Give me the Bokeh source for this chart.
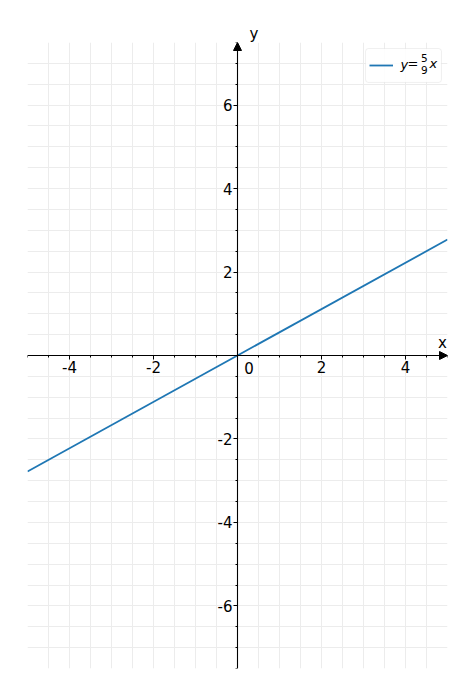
from bokeh.plotting import figure
from bokeh.models import (FixedTicker, Label, Arrow, NormalHead, Legend, LegendItem, BoxAnnotation)
from bokeh.embed import file_html
from bokeh.resources import INLINE

# ---- data ----
line_x = [-5.0, 5.0]
line_y = [-2.778, 2.778]
x_ticks = [-4, -2, 2, 4]
x_tick_labels = ["-4", "-2", "2", "4"]
y_ticks = [-6, -4, -2, 2, 4, 6]
y_tick_labels = ["-6", "-4", "-2", "2", "4", "6"]
x_lim = (-5, 5)
y_lim = (-7.5, 7.5)
step_minor = 0.5

minor_x = [x_lim[0] + i * step_minor for i in range(int((x_lim[1] - x_lim[0]) / step_minor) + 1)]
minor_y = [y_lim[0] + i * step_minor for i in range(int((y_lim[1] - y_lim[0]) / step_minor) + 1)]

FONT = "DejaVu Sans"
FS = "15px"
LFS = "13px"

p = figure(frame_width=420, frame_height=626, x_range=x_lim, y_range=y_lim,
           output_backend="svg", toolbar_location=None,
           min_border_left=27, min_border_right=19, min_border_top=42, min_border_bottom=19,
           outline_line_color=None, background_fill_color="white")

# axis name "y" above the frame (as title so it is not clipped)
p.title.text = "y"
p.title.text_font = FONT
p.title.text_font_size = FS
p.title.text_font_style = "normal"
p.title.text_color = "black"
p.title.align = "left"
p.title.offset = 222
p.title.standoff = 0

# grid every 0.5
p.xgrid.ticker = FixedTicker(ticks=minor_x)
p.ygrid.ticker = FixedTicker(ticks=minor_y)
for g in (p.xgrid, p.ygrid):
    g.grid_line_color = "#ececec"
    g.grid_line_width = 1

# axes through origin
for ax, ticks, labels, minors in ((p.xaxis, x_ticks, x_tick_labels, minor_x),
                                  (p.yaxis, y_ticks, y_tick_labels, minor_y)):
    ax.fixed_location = 0
    ax.ticker = FixedTicker(ticks=ticks, minor_ticks=minors)
    ax.major_label_overrides = {t: l for t, l in zip(ticks, labels)}
    ax.axis_line_color = "black"
    ax.axis_line_width = 1.1
    ax.major_tick_line_color = "black"
    ax.minor_tick_line_color = "black"
    ax.major_tick_in = 0
    ax.major_tick_out = 4
    ax.minor_tick_in = 0
    ax.minor_tick_out = 2
    ax.major_label_text_font = FONT
    ax.major_label_text_font_size = FS
    ax.major_label_text_color = "black"
p.xaxis.major_label_standoff = 1
p.yaxis.major_label_standoff = 1

# legend frame (drawn under everything except the grid)
p.add_layout(BoxAnnotation(left=3.048, right=4.857, top=7.356, bottom=6.542,
                           fill_color="white", fill_alpha=0.9,
                           line_color="#cccccc", line_width=1, border_radius=3,
                           level="underlay", editable=False))

# the line
r = p.line(line_x, line_y, line_color="#1f77b4", line_width=1.8)

# arrows at axis ends
p.add_layout(Arrow(end=NormalHead(size=8, fill_color="black", line_color="black", line_width=1),
                   x_start=x_lim[1] - 0.3, y_start=0, x_end=x_lim[1], y_end=0, line_alpha=0))
p.add_layout(Arrow(end=NormalHead(size=8, fill_color="black", line_color="black", line_width=1),
                   x_start=0, y_start=y_lim[1] - 0.3, x_end=0, y_end=y_lim[1], line_alpha=0))

# axis name x and origin label
p.add_layout(Label(x=4.88, y=0.3, text="x", text_font=FONT, text_font_size=FS,
                   text_align="center", text_baseline="middle", text_color="black"))
p.add_layout(Label(x=0.16, y=-0.31, text="0", text_font=FONT, text_font_size=FS,
                   text_align="left", text_baseline="middle", text_color="black"))

# legend sample line (transparent legend box; frame is the BoxAnnotation)
legend = Legend(items=[LegendItem(label=" ", renderers=[r])], location="top_right",
                padding=2, margin=6, glyph_width=24, glyph_height=30, label_standoff=6,
                label_width=40, label_height=30, spacing=0,
                border_line_alpha=0, background_fill_alpha=0,
                label_text_font_size="1px")
p.add_layout(legend)

# legend math text: y = 5/9 x
def lab(x, y, t, size, style="normal", align="left"):
    p.add_layout(Label(x=x, y=y, text=t, text_font=FONT, text_font_size=size,
                       text_font_style=style, text_align=align, text_baseline="middle",
                       text_color="black"))

lab(3.88, 6.98, "y", LFS, "italic")
lab(4.05, 7.0, "=", LFS)
lab(4.45, 7.14, "5", "10.5px", align="center")
lab(4.45, 6.85, "9", "10.5px", align="center")
lab(4.57, 7.0, "x", LFS, "italic")

open("out.html", "w").write(file_html(p, INLINE))
